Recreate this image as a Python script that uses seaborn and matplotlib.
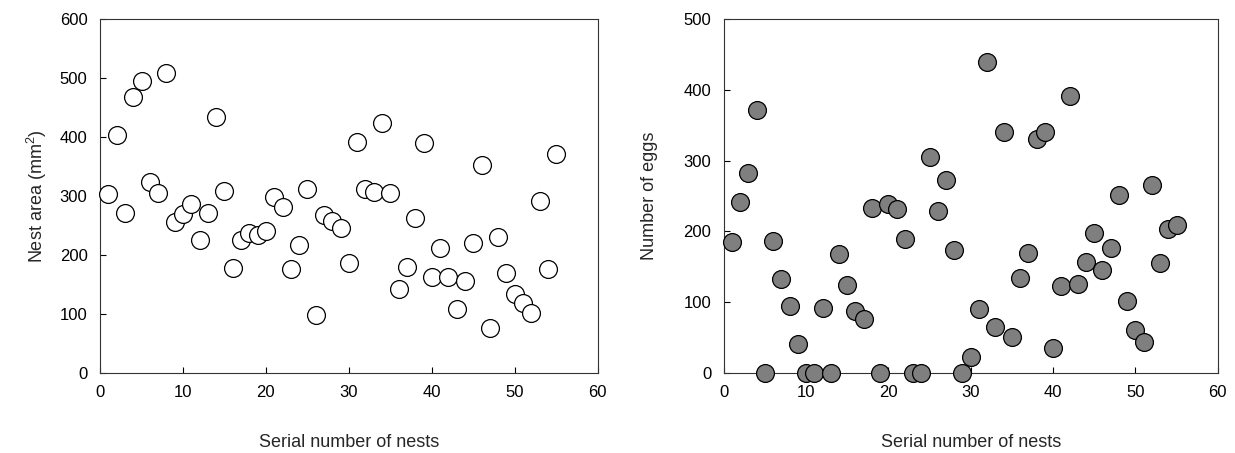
import matplotlib

matplotlib.use("Agg")
import matplotlib.pyplot as plt
import pandas as pd
import seaborn as sns

sns.set_theme(style="ticks")
plt.rcParams["font.family"] = ["Liberation Sans", "DejaVu Sans"]
plt.rcParams["mathtext.fontset"] = "custom"
plt.rcParams["mathtext.rm"] = "Liberation Sans"
plt.rcParams["mathtext.default"] = "rm"

# serial number of each nest (1..55)
nest_ids = list(range(1, 56))

# nest area (mm^2)
nest_area = [
    304, 404, 271, 468, 495, 324, 305, 508, 255, 270,
    286, 226, 271, 433, 308, 178, 225, 237, 233, 241,
    299, 282, 176, 217, 311, 98, 267, 257, 245, 186,
    392, 311, 306, 424, 305, 142, 179, 262, 390, 163,
    212, 163, 108, 155, 220, 353, 76, 231, 169, 133,
    118, 102, 291, 176, 371,
]

# number of eggs
egg_count = [
    185, 242, 283, 371, 0, 186, 132, 95, 41, 0,
    0, 92, 0, 168, 124, 87, 76, 233, 0, 239,
    231, 189, 0, 0, 305, 228, 273, 174, 0, 23,
    90, 439, 65, 341, 50, 134, 170, 331, 341, 35,
    123, 391, 125, 157, 198, 146, 177, 252, 102, 60,
    43, 265, 155, 203, 209,
]

df = pd.DataFrame({"nest": nest_ids, "area": nest_area, "eggs": egg_count})

fig = plt.figure(figsize=(12.35, 4.53), dpi=100)
ax1 = fig.add_axes([0.081, 0.177, 0.403, 0.781])
ax2 = fig.add_axes([0.586, 0.177, 0.400, 0.781])

sns.scatterplot(data=df, x="nest", y="area", ax=ax1, s=165,
                facecolor="white", edgecolor="black", linewidth=0.9,
                zorder=3, clip_on=False)
sns.scatterplot(data=df, x="nest", y="eggs", ax=ax2, s=165,
                facecolor="#7f7f7f", edgecolor="black", linewidth=0.9,
                zorder=3, clip_on=False)

ax1.set_xlim(0, 60)
ax1.set_ylim(0, 600)
ax1.set_yticks(range(0, 601, 100))
ax1.set_ylabel("Nest area (mm$^2$)", fontsize=13, labelpad=8)

ax2.set_xlim(0, 60)
ax2.set_ylim(0, 500)
ax2.set_yticks(range(0, 501, 100))
ax2.set_ylabel("Number of eggs", fontsize=13, labelpad=18)

for ax in (ax1, ax2):
    ax.set_xticks(range(0, 61, 10))
    ax.set_xlabel("Serial number of nests", fontsize=13, labelpad=24)
    ax.tick_params(direction="in", length=4, width=0.8, labelsize=12,
                   colors="black", pad=9)
    for side in ax.spines.values():
        side.set_visible(True)
        side.set_linewidth(0.8)
        side.set_color("#333333")

fig.savefig("out.png", dpi=100)
plt.close(fig)
